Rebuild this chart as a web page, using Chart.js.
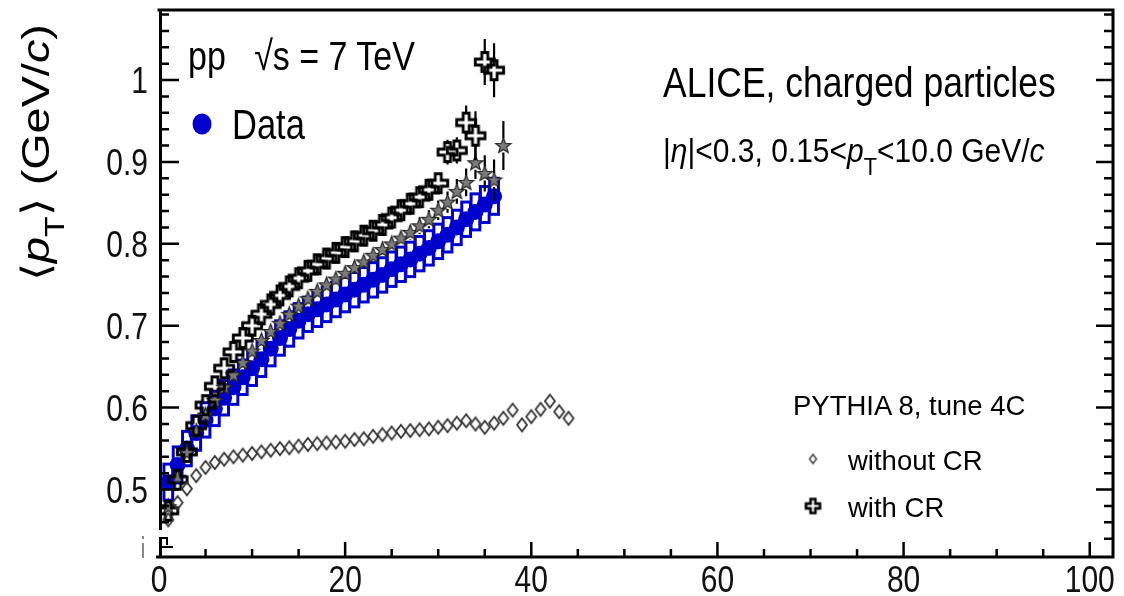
<!DOCTYPE html>
<html>
<head>
<meta charset="utf-8">
<script src="https://cdn.jsdelivr.net/npm/chart.js@4.4.1/dist/chart.umd.min.js"></script>
<style>
  html, body { margin: 0; padding: 0; background: #fff; }
  #lienzo { position: relative; width: 1124px; height: 596px; overflow: hidden; font-family: "Liberation Sans", Arial, sans-serif; color: #000; }
  #lienzo canvas { position: absolute; left: 0; top: 0; }
  .txt { position: absolute; white-space: nowrap; line-height: 1; transform-origin: 0 0; }
  .sub { position: relative; top: 0.55em; font-size: 0.72em; }
</style>
</head>
<body>
<div id="lienzo">
  <canvas id="grafico" width="1124" height="596"></canvas>
  <div class="txt" style="left:16px;top:0;font-size:39px;transform:translate(0,281px) rotate(-90deg) scale(1.2,1)">⟨<i>p</i><span class="sub">T</span>⟩ (GeV/<i>c</i>)</div>
  <div class="txt" style="left:188px;top:35px;font-size:34px;transform:scaleY(1.22)">pp&nbsp;&nbsp;&nbsp;√s = 7 TeV</div>
  <div class="txt" style="left:232px;top:104px;font-size:34.5px;transform:scaleY(1.22)">Data</div>
  <div class="txt" style="left:663px;top:63px;font-size:35.5px;transform:scaleY(1.18)">ALICE, charged particles</div>
  <div class="txt" style="left:663px;top:135px;font-size:30px;transform:scaleY(1.08)">|<i>η</i>|&lt;0.3, 0.15&lt;<i>p</i><span class="sub">T</span>&lt;10.0 GeV/<i>c</i></div>
  <div class="txt" style="left:793px;top:392px;font-size:27.5px">PYTHIA 8, tune 4C</div>
  <div class="txt" style="left:848px;top:447px;font-size:27.5px">without CR</div>
  <div class="txt" style="left:848px;top:494px;font-size:27.5px">with CR</div>
</div>
<script>
// datos
const nchData = [1,2,3,4,5,6,7,8,9,10,11,12,13,14,15,16,17,18,19,20,21,22,23,24,25,26,27,28,29,30,31,32,33,34,35,36];
const ptData = [0.509,0.530,0.550,0.569,0.585,0.599,0.612,0.625,0.637,0.648,0.659,0.672,0.685,0.696,0.706,0.714,0.720,0.726,0.732,0.738,0.744,0.750,0.756,0.762,0.769,0.775,0.781,0.788,0.795,0.803,0.811,0.820,0.830,0.839,0.848,0.858];
const sistData = [0.022,0.022,0.021,0.021,0.021,0.021,0.021,0.021,0.021,0.021,0.021,0.021,0.021,0.021,0.021,0.021,0.021,0.021,0.021,0.021,0.021,0.021,0.021,0.021,0.021,0.021,0.021,0.021,0.021,0.021,0.021,0.021,0.021,0.022,0.022,0.022];

const nchSinCR = [1,2,3,4,5,6,7,8,9,10,11,12,13,14,15,16,17,18,19,20,21,22,23,24,25,26,27,28,29,30,31,32,33,34,35,36,37,38,39,40,41,42,43,44];
const ptSinCR = [0.463,0.484,0.501,0.517,0.527,0.533,0.537,0.540,0.542,0.544,0.546,0.548,0.550,0.551,0.553,0.555,0.556,0.557,0.558,0.559,0.561,0.562,0.565,0.567,0.569,0.571,0.572,0.573,0.574,0.576,0.578,0.581,0.584,0.580,0.576,0.581,0.587,0.597,0.579,0.589,0.598,0.608,0.595,0.587];

const nchConCR = [1,2,3,4,5,6,7,8,9,10,11,12,13,14,15,16,17,18,19,20,21,22,23,24,25,26,27,28,29,30,31,32,33,34,35,36];
const ptConCR = [0.474,0.512,0.546,0.578,0.603,0.626,0.648,0.668,0.685,0.700,0.714,0.726,0.737,0.748,0.758,0.767,0.775,0.782,0.789,0.796,0.803,0.810,0.816,0.823,0.832,0.841,0.849,0.857,0.866,0.874,0.912,0.914,0.948,0.932,1.022,1.012];
const errConCR = [0.002,0.002,0.002,0.002,0.002,0.002,0.002,0.002,0.002,0.002,0.002,0.002,0.003,0.003,0.003,0.003,0.003,0.004,0.004,0.004,0.005,0.005,0.006,0.006,0.007,0.008,0.009,0.010,0.011,0.012,0.015,0.016,0.021,0.030,0.028,0.033];

const nchEstrella = [1,2,3,4,5,6,7,8,9,10,11,12,13,14,15,16,17,18,19,20,21,22,23,24,25,26,27,28,29,30,31,32,33,34,35,36,37];
const ptEstrella = [0.479,0.515,0.545,0.571,0.591,0.609,0.625,0.640,0.655,0.669,0.682,0.693,0.703,0.714,0.724,0.733,0.742,0.750,0.757,0.764,0.771,0.778,0.786,0.793,0.800,0.807,0.814,0.822,0.830,0.841,0.851,0.864,0.875,0.899,0.886,0.878,0.920];
const errEstrella = [0.002,0.002,0.002,0.002,0.002,0.002,0.002,0.002,0.002,0.002,0.002,0.002,0.003,0.003,0.003,0.003,0.003,0.004,0.004,0.004,0.005,0.005,0.006,0.006,0.007,0.008,0.009,0.010,0.011,0.012,0.013,0.015,0.017,0.020,0.022,0.025,0.030];

const ticksX = [0, 20, 40, 60, 80, 100];
const ticksY = [0.5, 0.6, 0.7, 0.8, 0.9, 1];
const etiquetasY = ['0.5', '0.6', '0.7', '0.8', '0.9', '1'];

const AZUL = '#0000cc';

// marcadores tipo ROOT
const crearCruz = (h, t, lw, color) => {
  const s = Math.ceil(2 * h + lw + 2);
  const c = document.createElement('canvas');
  c.width = s; c.height = s;
  const g = c.getContext('2d');
  g.translate(s / 2, s / 2);
  g.beginPath();
  g.moveTo(-t, -h); g.lineTo(t, -h); g.lineTo(t, -t); g.lineTo(h, -t); g.lineTo(h, t); g.lineTo(t, t);
  g.lineTo(t, h); g.lineTo(-t, h); g.lineTo(-t, t); g.lineTo(-h, t); g.lineTo(-h, -t); g.lineTo(-t, -t);
  g.closePath();
  g.lineWidth = lw; g.strokeStyle = color; g.stroke();
  return c;
};

const crearRombo = (w, h, lw, color) => {
  const c = document.createElement('canvas');
  c.width = Math.ceil(2 * w + lw + 2); c.height = Math.ceil(2 * h + lw + 2);
  const g = c.getContext('2d');
  g.translate(c.width / 2, c.height / 2);
  g.beginPath();
  g.moveTo(0, -h); g.lineTo(w, 0); g.lineTo(0, h); g.lineTo(-w, 0); g.closePath();
  g.lineWidth = lw; g.strokeStyle = color; g.stroke();
  return c;
};

const crearEstrella = (R, r, relleno, borde) => {
  const s = Math.ceil(2 * R + 3);
  const c = document.createElement('canvas');
  c.width = s; c.height = s;
  const g = c.getContext('2d');
  g.translate(s / 2, s / 2 + 0.5);
  g.beginPath();
  for (let i = 0; i < 10; i++) {
    const ang = -Math.PI / 2 + i * Math.PI / 5;
    const rad = i % 2 === 0 ? R : r;
    g.lineTo(rad * Math.cos(ang), rad * Math.sin(ang));
  }
  g.closePath();
  g.fillStyle = relleno; g.fill();
  g.lineWidth = 1.2; g.strokeStyle = borde; g.stroke();
  return c;
};

const cruz = crearCruz(9.5, 3, 2.8, '#000');
const cruzLeyenda = crearCruz(7, 2.4, 2.6, '#000');
const rombo = crearRombo(5, 6.5, 1.8, '#333');
const romboLeyenda = crearRombo(3.5, 4.5, 1.4, '#3a3a3a');
const estrella = crearEstrella(8, 3.4, '#7a7a7a', '#222');

const puntos = (xs, ys) => xs.map((x, i) => ({ x, y: ys[i] }));

// barras de error verticales, cortadas alrededor del marcador
const barrasError = (ctx, sx, sy, xs, ys, errs, hueco) => {
  ctx.save();
  ctx.strokeStyle = '#000';
  ctx.lineWidth = 2.2;
  xs.forEach((x, i) => {
    const px = sx.getPixelForValue(x);
    const pc = sy.getPixelForValue(ys[i]);
    const pa = sy.getPixelForValue(ys[i] + errs[i]);
    const pb = sy.getPixelForValue(ys[i] - errs[i]);
    ctx.beginPath();
    if (pc - hueco > pa) { ctx.moveTo(px, pa); ctx.lineTo(px, pc - hueco); }
    if (pc + hueco < pb) { ctx.moveTo(px, pc + hueco); ctx.lineTo(px, pb); }
    ctx.stroke();
  });
  ctx.restore();
};

const textoEstirado = (ctx, txt, x, y, escala, align) => {
  ctx.save();
  ctx.translate(x, y);
  ctx.scale(1, escala);
  ctx.textAlign = align;
  ctx.textBaseline = 'alphabetic';
  ctx.fillText(txt, 0, 0);
  ctx.restore();
};

const marcoPlugin = {
  id: 'marco',
  beforeDatasetsDraw(chart) {
    // cajas de error sistematico
    const { ctx, scales: { x: sx, y: sy } } = chart;
    ctx.save();
    ctx.strokeStyle = AZUL;
    ctx.lineWidth = 3;
    nchData.forEach((n, i) => {
      const x0 = sx.getPixelForValue(n - 0.47);
      const x1 = sx.getPixelForValue(n + 0.47);
      const y0 = sy.getPixelForValue(ptData[i] + sistData[i]);
      const y1 = sy.getPixelForValue(ptData[i] - sistData[i]);
      ctx.strokeRect(x0, y0, x1 - x0, y1 - y0);
    });
    ctx.restore();
  },
  afterDatasetsDraw(chart) {
    const { ctx, chartArea: a, scales: { x: sx, y: sy } } = chart;
    barrasError(ctx, sx, sy, nchEstrella, ptEstrella, errEstrella, 7);
    barrasError(ctx, sx, sy, nchConCR, ptConCR, errConCR, 10);

    ctx.save();
    ctx.strokeStyle = '#000';
    ctx.lineWidth = 3;
    ctx.lineCap = 'butt';
    const corteY = 530;
    ctx.beginPath();
    ctx.moveTo(a.left - 1.5, a.top); ctx.lineTo(a.right + 1.5, a.top);
    ctx.moveTo(a.right, a.top); ctx.lineTo(a.right, a.bottom);
    ctx.moveTo(a.left - 3, a.bottom); ctx.lineTo(a.right + 1.5, a.bottom);
    ctx.moveTo(a.left + 1.5, a.top); ctx.lineTo(a.left + 1.5, corteY);
    ctx.moveTo(a.left + 1.5, 537); ctx.lineTo(a.left + 1.5, a.bottom);
    ctx.stroke();

    // marcas del corte del eje
    ctx.lineWidth = 2;
    ctx.beginPath();
    ctx.moveTo(a.left + 1.5, 547); ctx.lineTo(a.left + 14, 547);
    ctx.moveTo(a.left + 1.5, 538); ctx.lineTo(a.left + 8, 538); ctx.lineTo(a.left + 8, 545);
    ctx.stroke();
    ctx.strokeStyle = '#888';
    ctx.beginPath();
    ctx.moveTo(143, 543); ctx.lineTo(143, 558);
    ctx.moveTo(143, 536); ctx.lineTo(143, 539);
    ctx.stroke();

    // marcas del eje x
    ctx.strokeStyle = '#000';
    ctx.lineWidth = 2.5;
    ctx.beginPath();
    for (let k = 1; k * 5 <= 100; k++) {
      const px = sx.getPixelForValue(k * 5);
      const largo = k % 4 === 0 ? 15 : 8;
      ctx.moveTo(px, a.bottom); ctx.lineTo(px, a.bottom - largo);
    }
    // marcas del eje y (izquierda y derecha)
    for (let k = 22; k <= 54; k++) {
      const v = k / 50;
      const py = sy.getPixelForValue(v);
      if (py < a.top + 2) continue;
      const mayor = k % 5 === 0;
      if (py < corteY) {
        ctx.moveTo(a.left, py); ctx.lineTo(a.left + (mayor ? 20 : 10), py);
      }
      ctx.moveTo(a.right, py); ctx.lineTo(a.right - (mayor ? 17 : 9), py);
    }
    ctx.stroke();

    // etiquetas de los ejes
    ctx.fillStyle = '#111';
    ctx.font = '30px "Liberation Sans", Arial, sans-serif';
    ticksX.forEach((t) => textoEstirado(ctx, String(t), sx.getPixelForValue(t), 592, 1.24, 'center'));
    ticksY.forEach((t, i) => textoEstirado(ctx, etiquetasY[i], 148, sy.getPixelForValue(t) + 13, 1.24, 'right'));

    // marcadores de la leyenda
    ctx.fillStyle = AZUL;
    ctx.beginPath();
    ctx.ellipse(202, 124, 9.5, 10.5, 0, 0, Math.PI * 2);
    ctx.fill();
    ctx.drawImage(romboLeyenda, 813 - romboLeyenda.width / 2, 459 - romboLeyenda.height / 2);
    ctx.drawImage(cruzLeyenda, 813 - cruzLeyenda.width / 2, 506 - cruzLeyenda.height / 2);
    ctx.restore();
  }
};

const ctx = document.getElementById('grafico').getContext('2d');
new Chart(ctx, {
  type: 'scatter',
  data: {
    datasets: [
      { label: 'without CR', data: puntos(nchSinCR, ptSinCR), pointStyle: rombo, pointRadius: 6 },
      { label: 'with CR', data: puntos(nchConCR, ptConCR), pointStyle: cruz, pointRadius: 9 },
      { label: 'PYTHIA', data: puntos(nchEstrella, ptEstrella), pointStyle: estrella, pointRadius: 8 },
      { label: 'Data', data: puntos(nchData, ptData), pointStyle: 'circle', pointRadius: 8,
        backgroundColor: AZUL, borderColor: AZUL, borderWidth: 0 }
    ]
  },
  options: {
    responsive: false,
    animation: false,
    devicePixelRatio: 1,
    layout: { padding: { left: 159, right: 11, top: 10, bottom: 39 } },
    plugins: { legend: { display: false }, tooltip: { enabled: false } },
    scales: {
      x: { type: 'linear', min: 0, max: 102.5, display: false },
      y: { type: 'linear', min: 0.4176, max: 1.0855, display: false }
    }
  },
  plugins: [marcoPlugin]
});
</script>
</body>
</html>
